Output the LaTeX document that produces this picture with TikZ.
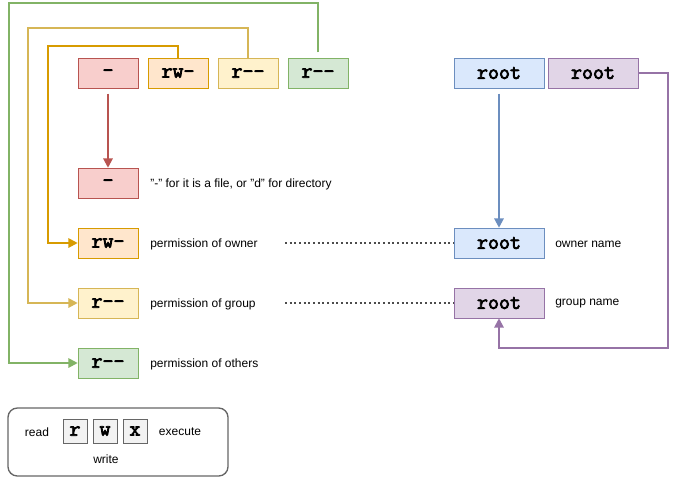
\documentclass[tikz,border=0pt]{standalone}
\usepackage{fontspec}
\setmainfont{Liberation Sans}
\newfontfamily\monob{Latin Modern Mono}[AutoFakeBold=3.5]
\usetikzlibrary{arrows.meta}
\definecolor{redf}{HTML}{F8CECC}\definecolor{redd}{HTML}{B85450}
\definecolor{orf}{HTML}{FFE6CC}\definecolor{ord}{HTML}{D79B00}
\definecolor{yef}{HTML}{FFF2CC}\definecolor{yed}{HTML}{D6B656}
\definecolor{grf}{HTML}{D5E8D4}\definecolor{grd}{HTML}{82B366}
\definecolor{blf}{HTML}{DAE8FC}\definecolor{bld}{HTML}{6C8EBF}
\definecolor{puf}{HTML}{E1D5E7}\definecolor{pud}{HTML}{9673A6}
\begin{document}
\begin{tikzpicture}[x=0.75pt,y=-0.75pt,
 bx/.style={draw,minimum width=45pt,minimum height=22.5pt,inner sep=0pt,font=\monob\bfseries\fontsize{16}{16}\selectfont},
 wb/.style={bx,minimum width=67.5pt},
 lb/.style={anchor=west,font=\fontsize{9}{10}\selectfont,inner sep=0pt},
 sq/.style={draw=black!60,fill=black!5,minimum size=18pt,inner sep=0pt,font=\monob\bfseries\fontsize{16}{16}\selectfont},
 ar/.style={line width=1.5pt,-{Triangle[length=7pt,width=7pt]}}]
\useasboundingbox (0,0) rectangle (678,480);
\node[bx,fill=redf,draw=redd] (t1) at (108,73) {-};
\node[bx,fill=orf,draw=ord] (t2) at (178,73) {rw-};
\node[bx,fill=yef,draw=yed] (t3) at (248,73) {r--};
\node[bx,fill=grf,draw=grd] (t4) at (318,73) {r--};
\node[wb,fill=blf,draw=bld] (u1) at (499,73) {root};
\node[wb,fill=puf,draw=pud] (g1) at (593,73) {root};
\node[bx,fill=redf,draw=redd] (m1) at (108,183) {-};
\node[bx,fill=orf,draw=ord] (m2) at (108,243) {rw-};
\node[bx,fill=yef,draw=yed] (m3) at (108,303) {r--};
\node[bx,fill=grf,draw=grd] (m4) at (108,363) {r--};
\node[wb,fill=blf,draw=bld] (u2) at (499,243) {root};
\node[wb,fill=puf,draw=pud] (g2) at (499,303) {root};
\node[lb] (l1) at (150,184) {"-" for it is a file, or "d" for directory};
\node[lb] (l2) at (150,244) {permission of owner};
\node[lb] (l3) at (150,304) {permission of group};
\node[lb] (l4) at (150,364) {permission of others};
\node[lb] (l5) at (555,244) {owner name};
\node[lb] (l6) at (555,304) {group name};
\coordinate (d1) at (285,243); \coordinate (d2) at (285,303);
\draw[black!70,line width=1.5pt,dotted] (d1) -- (u2.west);
\draw[black!70,line width=1.5pt,dotted] (d2) -- (g2.west);
\draw[ar,redd] ([yshift=-4pt]t1.south) -- (m1.north);
\draw[ar,bld] ([yshift=-4pt]u1.south) -- (u2.north);
\draw[ar,ord] (t2.north) -- ++(0,-12) -| (48,243) -- (m2.west);
\draw[ar,yed] (t3.north) -- ++(0,-30) -| (28,303) -- (m3.west);
\draw[ar,grd] ([yshift=4pt]t4.north) -- ++(0,-49) -| (9,363) -- (m4.west);
\draw[ar,pud] (g1.east) -- (668,73) |- (499,348) -- (g2.south);
\node[draw=black!60,line width=1pt,rounded corners=7pt,minimum width=165pt,minimum height=51pt] (leg) at (118,442) {};
\node[sq] (r) at (75,431) {r};
\node[sq] (w) at (105,431) {w};
\node[sq] (x) at (135,431) {x};
\node[lb,anchor=center] (rd) at (37,432) {read};
\node[lb,anchor=center] (ex) at (180,432) {execute};
\node[lb,anchor=center] (wr) at (106,459) {write};
\end{tikzpicture}
\end{document}
